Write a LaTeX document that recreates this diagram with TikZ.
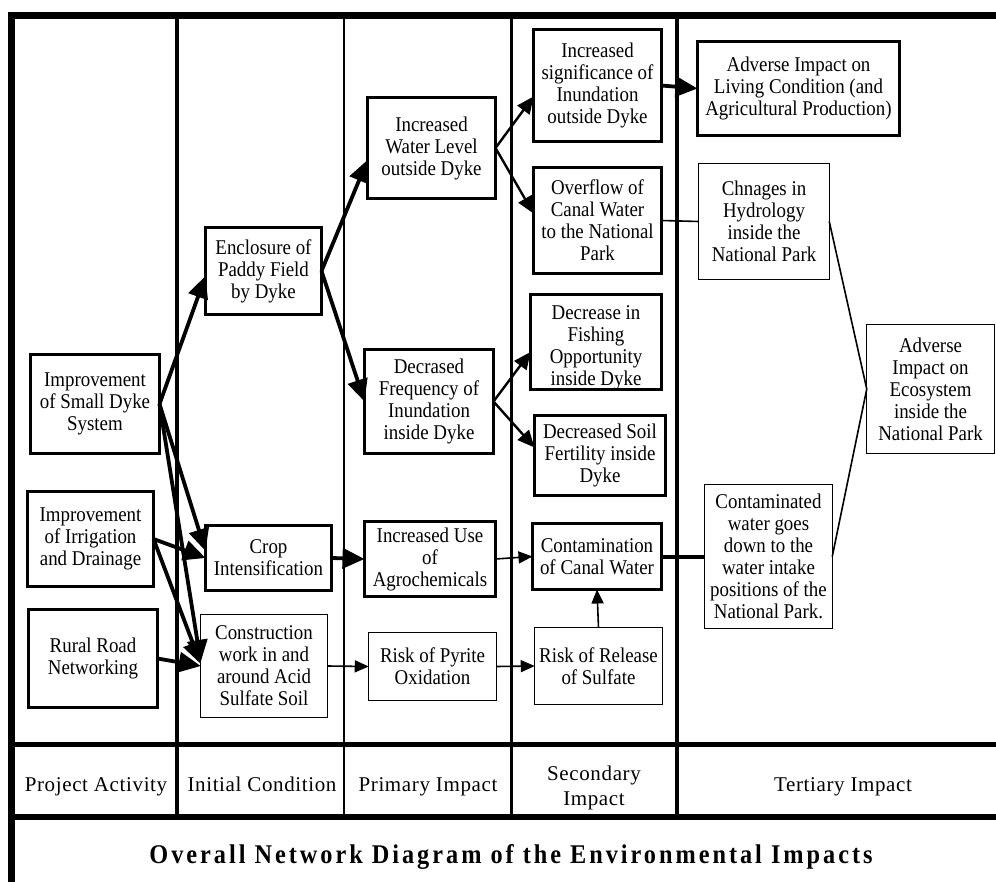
\documentclass[tikz,border=0pt]{standalone}
\usepackage{fontspec}
\setmainfont{Liberation Serif}[FakeStretch=0.9]
\newfontfamily\labelserif{Liberation Serif}
\usetikzlibrary{arrows.meta}

\begin{document}
\begin{tikzpicture}[x=1pt,y=-1pt,
  every node/.style={font=\fontsize{21}{22}\selectfont, align=center, inner sep=0pt, outer sep=0pt},
  heavybox/.style={draw, line width=3.2pt},
  lightbox/.style={draw, line width=1.4pt},
  fat/.style={line width=3.8pt, -{Triangle[length=22pt,width=20pt]}},
  medium/.style={line width=2.4pt, -{Triangle[length=17pt,width=15pt]}},
  slim/.style={line width=1.6pt, -{Triangle[length=14pt,width=12pt]}},
  plain/.style={line width=1.6pt},
  rowlabel/.style={font=\labelserif\fontsize{21}{25}\selectfont\addfontfeature{LetterSpace=3}, anchor=base}]

% page extent
\useasboundingbox (0,0) rectangle (996,882);

% frame and table rules
\draw[line width=6.5pt, line join=miter] (996,15.5) -- (11.5,15.5) -- (11.5,882);
\draw[line width=4.5pt] (11.5,744.5) -- (996,744.5);
\draw[line width=6pt] (11.5,817) -- (996,817);
\draw[line width=4pt] (177,15.5) -- (177,817);
\draw[line width=2pt] (344,15.5) -- (344,817);
\draw[line width=3.5pt] (511.5,15.5) -- (511.5,817);
\draw[line width=3.5pt] (677,15.5) -- (677,817);

% project activity
\node[heavybox, minimum width=129pt, minimum height=99pt] (dyke) at (95,404) {Improvement\\of Small Dyke\\System};
\node[heavybox, minimum width=126pt, minimum height=95pt] (irrig) at (90.5,539) {Improvement\\of Irrigation\\and Drainage};
\node[heavybox, minimum width=129pt, minimum height=98pt] (road) at (93,658.5) {Rural Road\\Networking};

% initial condition
\node[heavybox, minimum width=116pt, minimum height=87pt] (encl) at (263.5,271) {Enclosure of\\Paddy Field\\by Dyke};
\node[heavybox, minimum width=126pt, minimum height=65pt] (crop) at (268.5,558) {Crop\\Intensification};
\node[lightbox, minimum width=126.5pt, minimum height=102.5pt] (constr) at (264,666) {Construction\\work in and\\around Acid\\Sulfate Soil};

% primary impact
\node[heavybox, minimum width=128pt, minimum height=101pt] (water) at (431.5,148) {Increased\\Water Level\\outside Dyke};
\node[heavybox, minimum width=129pt, minimum height=104pt] (freq) at (429,401.5) {Decrased\\Frequency of\\Inundation\\inside Dyke};
\node[heavybox, minimum width=131pt, minimum height=75pt] (agro) at (430,559) {Increased Use\\of\\Agrochemicals};
\node[lightbox, minimum width=127.5pt, minimum height=67.5pt] (pyrite) at (432.5,666.5) {Risk of Pyrite\\Oxidation};

% secondary impact
\node[heavybox, minimum width=128pt, minimum height=112pt] (signif) at (597.5,85.5) {Increased\\significance of\\Inundation\\outside Dyke};
\node[heavybox, minimum width=128pt, minimum height=106pt] (overflow) at (597.5,220.5) {Overflow of\\Canal Water\\to the National\\Park};
\node[heavybox, minimum width=131pt, minimum height=95pt,
      label={[yshift=-6pt]center:{Decrease in\\Fishing\\Opportunity\\inside Dyke}}] (fishing) at (596,342) {};
\node[heavybox, minimum width=131pt, minimum height=80pt] (soil) at (600,455.5) {Decreased Soil\\Fertility inside\\Dyke};
\node[heavybox, minimum width=129pt, minimum height=66pt] (contam) at (597,556.5) {Contamination\\of Canal Water};
\node[lightbox, minimum width=127.5pt, minimum height=76.5pt] (sulfate) at (598.5,666) {Risk of Release\\of Sulfate};

% tertiary impact
\node[heavybox, minimum width=202pt, minimum height=94pt] (living) at (798.5,88.5) {Adverse Impact on\\Living Condition (and\\Agricultural Production)};
\node[lightbox, minimum width=130.5pt, minimum height=115.5pt] (hydro) at (764,221.5) {Chnages in\\Hydrology\\inside the\\National Park};
\node[lightbox, minimum width=127.5pt, minimum height=143.5pt] (contw) at (768.5,556.5) {Contaminated\\water goes\\down to the\\water intake\\positions of the\\National Park.};
\node[lightbox, minimum width=127.5pt, minimum height=128.5pt] (eco) at (930.5,389) {Adverse\\Impact on\\Ecosystem\\inside the\\National Park};

% connectors from project activities
\draw[fat] (dyke.east) -- ([yshift=-5pt]encl.west);
\draw[fat] (dyke.east) -- ([yshift=7pt]crop.west);
\draw[fat] (dyke.east) -- ([yshift=4pt]constr.west);
\draw[fat] (irrig.east) -- (crop.west);
\draw[fat] (irrig.east) -- ([yshift=2pt]constr.west);
\draw[fat] (road.east) -- (constr.west);

% connectors from initial conditions
\draw[fat] (encl.east) -- ([yshift=-12pt]water.west);
\draw[fat] (encl.east) -- (freq.west);
\draw[fat] (crop.east) -- (agro.west);
\draw[slim] (constr.east) -- (pyrite.west);

% connectors from primary impacts
\draw[medium] (water.east) -- ([yshift=-11pt]signif.west);
\draw[medium] (water.east) -- ([yshift=7pt]overflow.west);
\draw[medium] (freq.east) -- ([yshift=-10pt]fishing.west);
\draw[medium] (freq.east) -- ([yshift=8pt]soil.west);
\draw[slim] (agro.east) -- (contam.west);
\draw[slim] (pyrite.east) -- (sulfate.west);
\draw[slim] (sulfate.north) -- (contam.south);

% connectors to tertiary impacts
\draw[fat] (signif.east) -- (living.west);
\draw[plain] (overflow.east) -- (hydro.west);
\draw[line width=4pt] (contam.east) -- (contw.west);
\draw[plain] (hydro.east) -- (eco.west) -- (contw.east);

% column labels
\node[rowlabel] (lbla) at (96,791) {Project Activity};
\node[rowlabel] (lblb) at (262,791) {Initial Condition};
\node[rowlabel] (lblc) at (428,791) {Primary Impact};
\node[rowlabel] (lbld) at (594,805) {Secondary\\Impact};
\node[rowlabel] (lble) at (843,791) {Tertiary Impact};

% caption
\node[anchor=base, font=\bfseries\fontsize{27}{27}\selectfont\addfontfeature{LetterSpace=11}] (caption) at (511,863) {Overall Network Diagram of the Environmental Impacts};
\end{tikzpicture}
\end{document}
